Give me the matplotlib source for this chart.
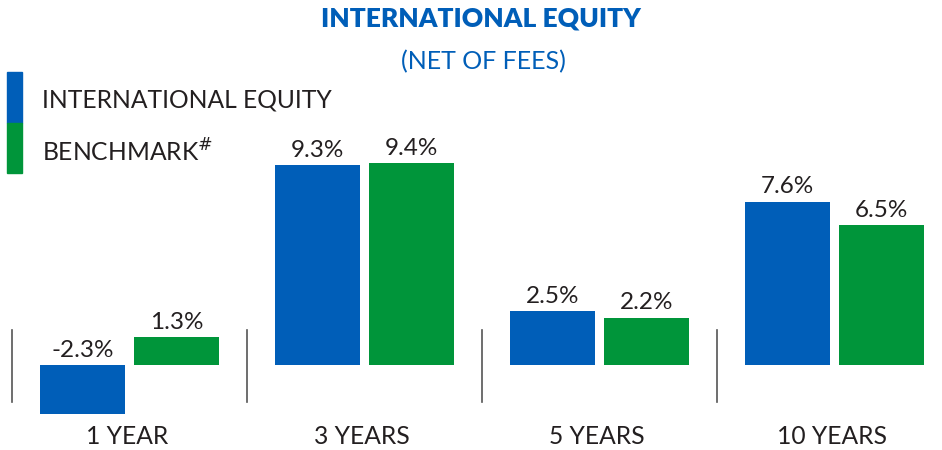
import matplotlib
matplotlib.use("Agg")
import matplotlib.pyplot as plt
from matplotlib.patches import Rectangle
import numpy as np

# data
periods = ["1 YEAR", "3 YEARS", "5 YEARS", "10 YEARS"]
fund = [-2.3, 9.3, 2.5, 7.6]
benchmark = [1.3, 9.4, 2.2, 6.5]
series_names = ["INTERNATIONAL EQUITY", "BENCHMARK$^{\\#}$"]

BLUE = "#005EB8"
GREEN = "#00953A"
TEXT = "#231F20"
plt.rcParams["font.family"] = ["Lato", "DejaVu Sans"]

W, H = 942, 450
fig = plt.figure(figsize=(W / 100, H / 100), dpi=100)
ax = fig.add_axes([0, 0, 1, 1])

# pixel layout -> data limits
px_per_group = 235.0
px_per_pct = 21.5
x0_px, zero_px = 129.5, 365.0
ax.set_xlim(-x0_px / px_per_group, (W - x0_px) / px_per_group)
ax.set_ylim(-(H - zero_px) / px_per_pct, zero_px / px_per_pct)
ax.axis("off")

x = np.arange(len(periods))
bw = 85 / px_per_group
off = 47 / px_per_group

b1 = ax.bar(x - off, fund, bw, color=BLUE)
b2 = ax.bar(x + off, benchmark, bw, color=GREEN)

for bars, vals in ((b1, fund), (b2, benchmark)):
    for bar, v in zip(bars, vals):
        top = max(v, 0)
        ax.text(bar.get_x() + bar.get_width() / 2, top + 0.2, f"{v:.1f}%",
                ha="center", va="bottom", fontsize=17.5, color=TEXT)

# separators between groups
for xs in x - 0.5:
    ax.plot([xs, xs], [-1.72, 1.63], color="#555555", lw=1.2)

for xi, lab in zip(x, periods):
    ax.text(xi - 0.01, -(436 - zero_px) / px_per_pct, lab, ha="center",
            va="center", fontsize=17.7, color=TEXT)

# titles
fig.text(481 / W, 1 - 18 / H, "INTERNATIONAL EQUITY", ha="center", va="center",
         fontsize=19, fontweight="heavy", color=BLUE)
fig.text(483 / W, 1 - 62 / H, "(NET OF FEES)", ha="center", va="center",
         fontsize=18, color=BLUE)

# legend blocks
fig.patches.append(Rectangle((7 / W, 1 - 123 / H), 15 / W, 51 / H,
                             transform=fig.transFigure, color=BLUE))
fig.patches.append(Rectangle((7 / W, 1 - 173 / H), 15 / W, 50 / H,
                             transform=fig.transFigure, color=GREEN))
fig.text(42 / W, 1 - 100 / H, series_names[0], ha="left", va="center",
         fontsize=17.7, color=TEXT)
fig.text(42 / W, 1 - 152 / H, series_names[1], ha="left", va="center",
         fontsize=17.7, color=TEXT)

fig.savefig("out.png", dpi=100)
